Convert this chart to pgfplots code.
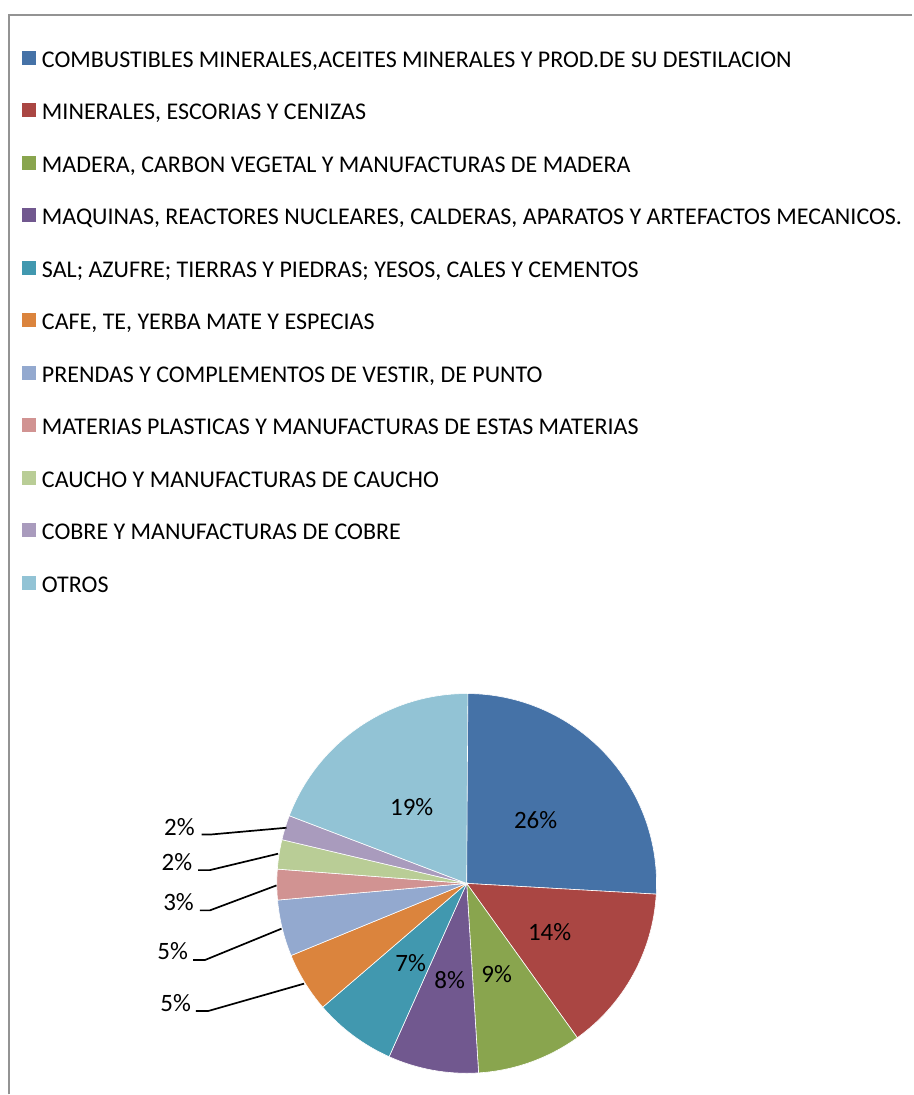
\documentclass[border=0pt]{standalone}
\usepackage{fontspec}
\setmainfont{Carlito}
\usepackage{pgfplots}
\usepackage{pgfplotstable}
\pgfplotsset{compat=1.18}
\definecolor{c1}{HTML}{4572A7}
\definecolor{c2}{HTML}{AA4643}
\definecolor{c3}{HTML}{89A54E}
\definecolor{c4}{HTML}{71588F}
\definecolor{c5}{HTML}{4198AF}
\definecolor{c6}{HTML}{DB843D}
\definecolor{c7}{HTML}{93A9CF}
\definecolor{c8}{HTML}{D19392}
\definecolor{c9}{HTML}{B9CD96}
\definecolor{c10}{HTML}{A99BBD}
\definecolor{c11}{HTML}{92C3D5}
\pgfplotstableread{
val col
25.9 c1
14.2 c2
8.9 c3
7.7 c4
7.0 c5
5.1 c6
4.8 c7
2.6 c8
2.5 c9
2.1 c10
19.3 c11
}\piedata
\begin{document}
\begin{tikzpicture}
\begin{axis}[
  x=1pt, y=1pt, y dir=reverse,
  xmin=0, xmax=913, ymin=0, ymax=1095,
  hide axis, clip=false,
  legend image code/.code={\fill[#1, draw=none] (0pt,-5.5pt) rectangle (14pt,8.5pt);},
  legend style={
    at={(axis description cs:0.0241,0.9534)}, anchor=north west,
    draw=none, fill=none, inner sep=0pt, outer sep=0pt,
    row sep=36pt, column sep=6pt,
    font=\fontsize{24}{28}\selectfont,
    nodes={inner sep=0pt, text height=16pt, text depth=0pt},
    cells={anchor=west},
  },
  legend cell align=left,
]
\path (axis cs:0,0) rectangle (axis cs:913,1095);
\draw[color=gray!85, line width=1.5pt] (axis cs:9,1095) -- (axis cs:9,15) -- (axis cs:913,15);
\addlegendimage{fill=c1}\addlegendentry{COMBUSTIBLES MINERALES,ACEITES MINERALES Y PROD.DE SU DESTILACION}
\addlegendimage{fill=c2}\addlegendentry{MINERALES, ESCORIAS Y CENIZAS}
\addlegendimage{fill=c3}\addlegendentry{MADERA, CARBON VEGETAL Y MANUFACTURAS DE MADERA}
\addlegendimage{fill=c4}\addlegendentry{MAQUINAS, REACTORES NUCLEARES, CALDERAS, APARATOS Y ARTEFACTOS MECANICOS.}
\addlegendimage{fill=c5}\addlegendentry{SAL; AZUFRE; TIERRAS Y PIEDRAS; YESOS, CALES Y CEMENTOS}
\addlegendimage{fill=c6}\addlegendentry{CAFE, TE, YERBA MATE Y ESPECIAS}
\addlegendimage{fill=c7}\addlegendentry{PRENDAS Y COMPLEMENTOS DE VESTIR, DE PUNTO}
\addlegendimage{fill=c8}\addlegendentry{MATERIAS PLASTICAS Y MANUFACTURAS DE ESTAS MATERIAS}
\addlegendimage{fill=c9}\addlegendentry{CAUCHO Y MANUFACTURAS DE CAUCHO}
\addlegendimage{fill=c10}\addlegendentry{COBRE Y MANUFACTURAS DE COBRE}
\addlegendimage{fill=c11}\addlegendentry{OTROS}
\pgfplotstablegetrowsof{\piedata}
\pgfmathtruncatemacro\N{\pgfplotsretval-1}
\def\cum{90}
\pgfplotsforeachungrouped \i in {0,...,\N}{%
  \pgfplotstablegetelem{\i}{val}\of\piedata \let\v\pgfplotsretval
  \pgfplotstablegetelem{\i}{col}\of\piedata \let\c\pgfplotsretval
  \pgfmathsetmacro\endang{\cum-3.6*\v}%
  \edef\temp{\noexpand\fill[\c, draw=white, line width=0.6pt] (axis cs:467,884) -- ++(\cum:190pt) arc[start angle=\cum, end angle=\endang, radius=190pt] -- cycle;}%
  \temp
  \global\let\cum\endang
}
\begin{scope}[font=\fontsize{25}{29}\selectfont]
\node at (axis cs:536,821) {26\%};
\node at (axis cs:550,933) {14\%};
\node at (axis cs:497,975) {9\%};
\node at (axis cs:450,981) {8\%};
\node at (axis cs:411,964) {7\%};
\node at (axis cs:412,808) {19\%};
\node at (axis cs:179.5,828) {2\%};
\node at (axis cs:177,863) {2\%};
\node at (axis cs:178.7,903) {3\%};
\node at (axis cs:172.8,952) {5\%};
\node at (axis cs:175.8,1004) {5\%};
\end{scope}
\begin{scope}[line width=1.7pt]
\draw (axis cs:201.7,835) -- (axis cs:211.7,835) -- (axis cs:286.7,828.3);
\draw (axis cs:198.3,870.7) -- (axis cs:210,870.7) -- (axis cs:278.3,854.3);
\draw (axis cs:200,911) -- (axis cs:210,911) -- (axis cs:276.7,886);
\draw (axis cs:193.3,960.7) -- (axis cs:205,960.7) -- (axis cs:281.7,929.3);
\draw (axis cs:196,1011.7) -- (axis cs:208.3,1011.7) -- (axis cs:304.3,984.3);
\end{scope}
\end{axis}
\end{tikzpicture}
\end{document}
